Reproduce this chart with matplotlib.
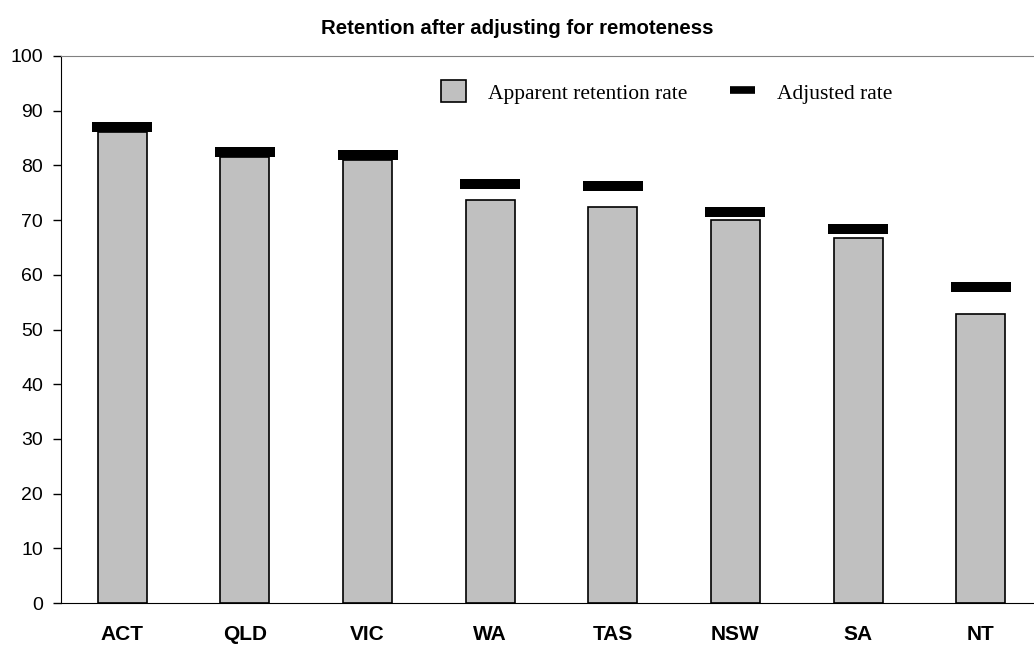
import numpy as np
import matplotlib
matplotlib.use("Agg")
import matplotlib.pyplot as plt
from matplotlib.patches import Patch
from matplotlib.lines import Line2D

# data
states = ["ACT", "QLD", "VIC", "WA", "TAS", "NSW", "SA", "NT"]
apparent = [86.1, 81.5, 81.0, 73.7, 72.4, 70.0, 66.7, 52.8]
adjusted = [87.0, 82.4, 81.9, 76.6, 76.2, 71.5, 68.4, 57.8]

plt.rcParams["font.family"] = ["Liberation Sans", "DejaVu Sans"]

fig = plt.figure(figsize=(10.34, 6.47), dpi=100)
ax = fig.add_axes([61 / 1034, 44 / 647, (1042 - 61) / 1034, (603 - 56) / 647])

x = np.arange(len(states))
ax.bar(x, apparent, width=0.4, color="#c0c0c0", edgecolor="black", linewidth=1.2, zorder=2)
# adjusted rate shown as thick black dash
mark_h = 1.8
ax.bar(x, [mark_h] * len(x), bottom=np.array(adjusted) - mark_h / 2, width=0.49,
       color="black", edgecolor="none", zorder=3)

ax.set_xlim(-0.5, 7.5)
ax.set_ylim(0, 100)
ax.set_yticks(range(0, 101, 10))
ax.set_xticks(x)
ax.set_xticklabels(states, fontsize=15, fontweight="bold")
ax.tick_params(axis="x", length=0, pad=16)
ax.tick_params(axis="y", length=5.8, width=1, labelsize=14, pad=7)

ax.spines["left"].set_color("black")
ax.spines["bottom"].set_color("black")
ax.spines["top"].set_color("#808080")
ax.spines["right"].set_visible(False)

fig.text(0.5, 1 - 28 / 647, "Retention after adjusting for remoteness",
         ha="center", va="center", fontsize=14.7, fontweight="bold")

handles = [Patch(facecolor="#c0c0c0", edgecolor="black", linewidth=1.2),
           Line2D([], [], color="black", linewidth=5.5, solid_capstyle="butt")]
leg = ax.legend(handles, ["Apparent retention rate", "Adjusted rate"],
                ncol=2, frameon=False, loc="center left",
                bbox_to_anchor=((441 - 61) / (1042 - 61), (603 - 92) / (603 - 56)),
                prop={"family": "Liberation Serif", "size": 15.5},
                handlelength=1.17, handleheight=1.17, handletextpad=1.0, columnspacing=2.0,
                borderpad=0, borderaxespad=0)

fig.savefig("out.png", dpi=100)
